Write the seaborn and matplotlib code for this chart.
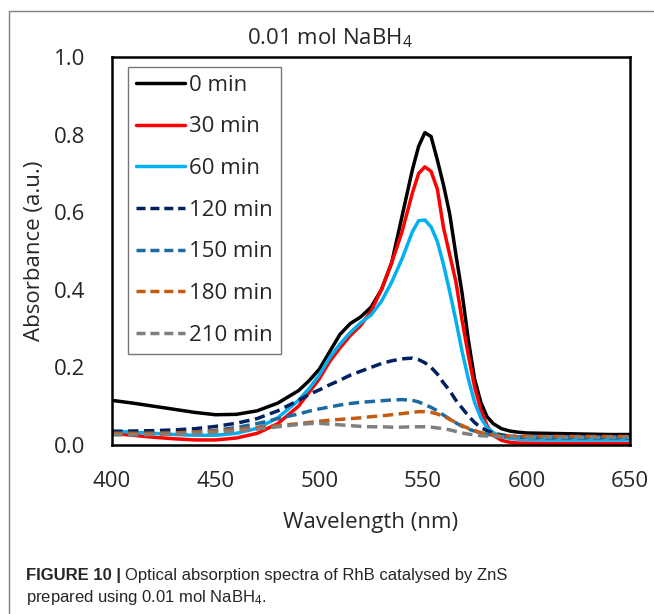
import numpy as np
import pandas as pd
import seaborn as sns
import matplotlib.pyplot as plt
from matplotlib.lines import Line2D

# wavelength grid (nm) and absorbance
wl = [400, 410, 420, 430, 440, 450, 460, 470, 480, 490, 495, 500, 505, 510, 515,
      520, 525, 530, 535, 540, 545, 548, 551, 554, 557, 560, 563, 566, 569, 572,
      575, 578, 581, 584, 588, 592, 596, 600, 610, 620, 630, 640, 650]

a_0 = [.115, .108, .100, .092, .084, .078, .079, .088, .108, .140, .165, .195, .240, .285, .313,
       .330, .355, .400, .470, .590, .710, .770, .805, .795, .735, .670, .595, .490, .390, .270,
       .170, .110, .073, .055, .042, .036, .033, .031, .030, .029, .028, .027, .027]
a_30 = [.030, .025, .020, .016, .013, .013, .018, .030, .055, .100, .135, .170, .215, .250, .282,
        .308, .345, .400, .470, .550, .650, .700, .717, .705, .660, .560, .490, .420, .320, .230,
        .150, .090, .050, .025, .012, .007, .005, .005, .004, .004, .004, .004, .004]
a_60 = [.036, .033, .030, .027, .025, .025, .030, .043, .070, .115, .145, .180, .225, .260, .290,
        .315, .335, .370, .420, .480, .550, .578, .580, .562, .525, .465, .395, .320, .240, .170,
        .110, .070, .045, .032, .022, .017, .015, .014, .013, .013, .013, .013, .013]
a_120 = [.035, .036, .037, .039, .042, .048, .056, .068, .088, .115, .130, .142, .155, .167, .180,
         .190, .200, .210, .217, .222, .224, .220, .212, .200, .183, .160, .140, .115, .095, .075,
         .058, .045, .037, .031, .026, .023, .021, .020, .019, .019, .019, .019, .019]
a_150 = [.030, .030, .030, .031, .034, .038, .045, .055, .068, .080, .087, .093, .098, .103, .107,
         .110, .112, .114, .116, .117, .115, .111, .104, .097, .088, .077, .067, .057, .048, .041,
         .036, .031, .028, .025, .023, .022, .021, .021, .020, .020, .020, .020, .020]
a_180 = [.030, .030, .030, .031, .033, .036, .040, .045, .050, .055, .058, .061, .064, .066, .068,
         .070, .073, .075, .078, .081, .084, .086, .086, .084, .080, .074, .066, .058, .050, .043,
         .037, .032, .029, .026, .024, .023, .023, .022, .022, .022, .022, .022, .022]
a_210 = [.026, .026, .027, .028, .030, .032, .036, .041, .047, .053, .055, .056, .054, .052, .050,
         .048, .047, .047, .046, .046, .047, .047, .047, .046, .044, .042, .039, .035, .031, .028,
         .026, .024, .023, .022, .021, .021, .020, .020, .020, .020, .020, .020, .020]

labels = ['0 min', '30 min', '60 min', '120 min', '150 min', '180 min', '210 min']
series = [a_0, a_30, a_60, a_120, a_150, a_180, a_210]
colors = ['#000000', '#ff0000', '#00b0f0', '#002060', '#1c6aa0', '#c55a11', '#7f7f7f']
dashed = [False, False, False, True, True, True, True]

df = pd.concat([pd.DataFrame({'wl': wl, 'A': s, 'time': lab}) for lab, s in zip(labels, series)])

sns.set_style('white')
plt.rcParams['font.family'] = ['Open Sans', 'DejaVu Sans']
plt.rcParams['mathtext.default'] = 'regular'

fig = plt.figure(figsize=(6.54, 6.14), dpi=100)
ax = fig.add_axes([112/654, 1-445/614, (630-112)/654, (445-57)/614])

lw = 2.5
sns.lineplot(data=df, x='wl', y='A', hue='time', style='time', hue_order=labels, style_order=labels,
             palette=dict(zip(labels, colors)),
             dashes={l: ((3.0, 1.6) if d else '') for l, d in zip(labels, dashed)},
             estimator=None, linewidth=lw, legend=False, ax=ax)

ax.set_xlim(400, 650)
ax.set_ylim(0, 1.0)
ax.set_xticks([400, 450, 500, 550, 600, 650])
ax.set_yticks([0, 0.2, 0.4, 0.6, 0.8, 1.0])
ax.set_yticklabels(['0.0', '0.2', '0.4', '0.6', '0.8', '1.0'])
ax.tick_params(direction='in', length=5, width=1.5, labelsize=16, pad=19, color='black')
for sp in ax.spines.values():
    sp.set_linewidth(1.8)
    sp.set_color('black')
ax.set_xlabel('Wavelength (nm)', fontsize=16, labelpad=14)
ax.set_ylabel('Absorbance (a.u.)', fontsize=16, labelpad=7)

handles = [Line2D([], [], color=c, lw=lw, dashes=((2.6, 1.4) if d else (None, None)))
           for c, d in zip(colors, dashed)]
leg = fig.legend(handles, labels, loc='upper left', bbox_to_anchor=(128/654, 1-67/614),
                 fontsize=16, frameon=True, fancybox=False, handlelength=2.2, handletextpad=0.2,
                 labelspacing=0.93, borderpad=0.35, borderaxespad=0)
leg.get_frame().set_edgecolor('#555555')
leg.get_frame().set_linewidth(1.0)

fig.text(330/654, 1-38/614, '0.01 mol NaBH$_4$', ha='center', va='center', fontsize=16)

# caption
cap_font = ['Liberation Sans Narrow', 'Liberation Sans', 'DejaVu Sans']
t1 = fig.text(26/654, 1-580/614, 'FIGURE 10 |', fontsize=12, fontweight='bold', family=cap_font,
              va='baseline')
fig.canvas.draw()
bb = t1.get_window_extent(fig.canvas.get_renderer())
fig.text(bb.x1/654 + 4/654, 1-580/614, 'Optical absorption spectra of RhB catalysed by ZnS',
         fontsize=12, family=cap_font, va='baseline')
fig.text(26/654, 1-602/614, 'prepared using 0.01 mol NaBH$_4$.', fontsize=12, family=cap_font,
         va='baseline')

# border of the figure panel
fig.add_artist(Line2D([9/654, 9/654, 1], [0, 1-11/614, 1-11/614], transform=fig.transFigure,
                      color='#808080', lw=1))

fig.savefig('out.png', dpi=100)
